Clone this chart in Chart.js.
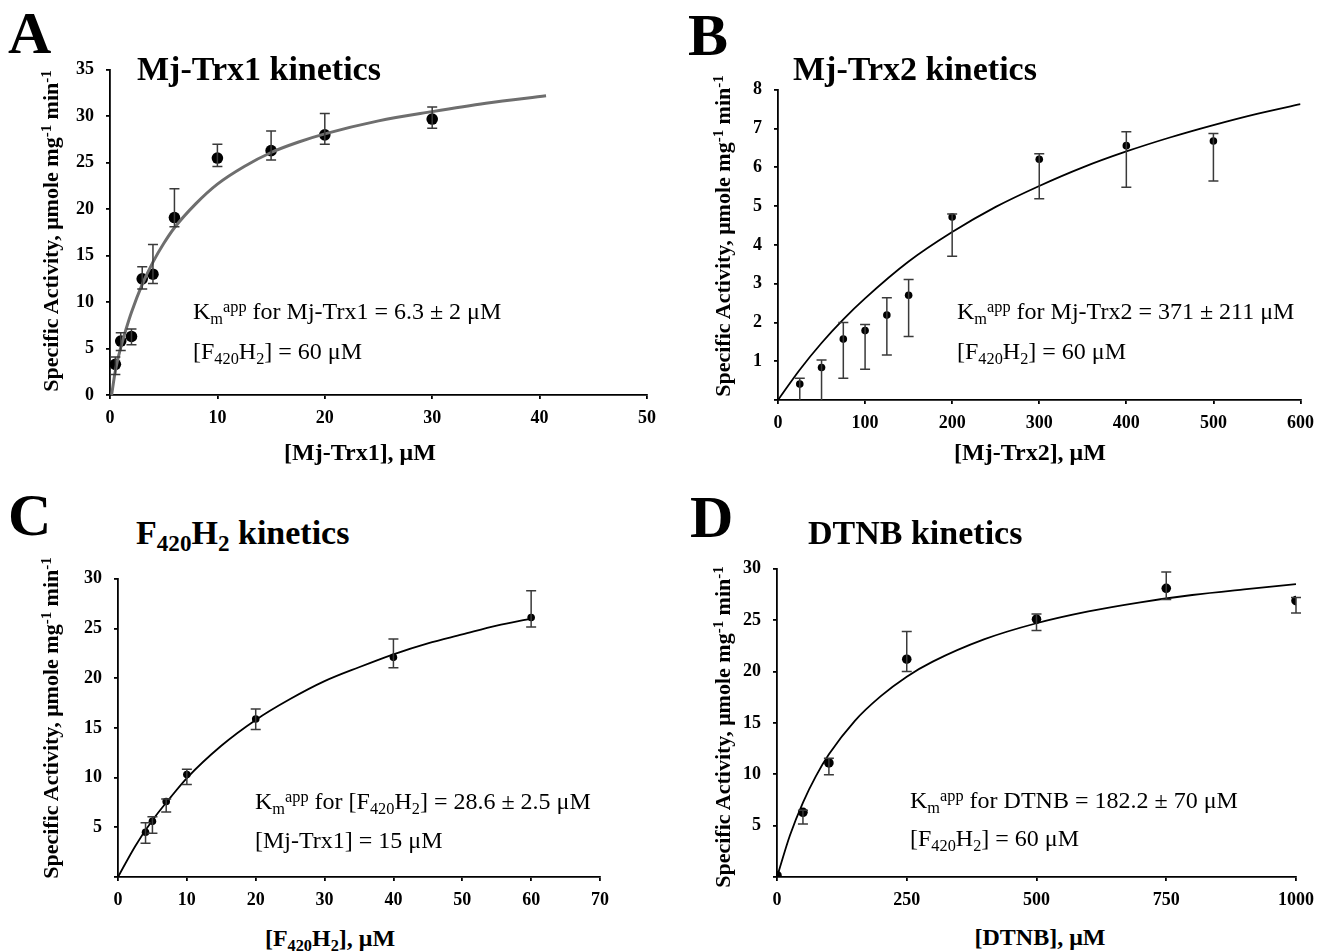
<!DOCTYPE html>
<html>
<head>
<meta charset="utf-8">
<script src="https://cdn.jsdelivr.net/npm/chart.js@4.4.1/dist/chart.umd.min.js"></script>
<style>
  html, body { margin: 0; padding: 0; background: #fff; }
  #page { position: relative; width: 1323px; height: 951px; overflow: hidden; font-family: "Liberation Serif", "Times New Roman", serif; color: #000; }
  canvas { position: absolute; }
  .txt { position: absolute; white-space: nowrap; line-height: 1; }
  .letter { font-size: 60px; font-weight: bold; }
  .title { font-size: 34px; font-weight: bold; }
  .note { font-size: 24px; }
  .xt { font-size: 24px; font-weight: bold; transform: translateX(-50%); }
  .yt { font-size: 22px; font-weight: bold; transform: translate(-50%, -50%) rotate(-90deg); }
  sub, sup { font-size: 0.68em; line-height: 0; position: relative; vertical-align: baseline; }
  sub { top: 0.3em; }
  sup { top: -0.45em; }
</style>
</head>
<body>
<div id="page">
  <canvas id="chartA" width="617" height="393" style="left:55px;top:47px"></canvas>
  <canvas id="chartB" width="600" height="378" style="left:723px;top:67px"></canvas>
  <canvas id="chartC" width="562" height="366" style="left:63px;top:556px"></canvas>
  <canvas id="chartD" width="601" height="376" style="left:722px;top:546px"></canvas>

  <div class="txt letter" style="left:8px;top:3px">A</div>
  <div class="txt letter" style="left:688px;top:5px">B</div>
  <div class="txt letter" style="left:8px;top:485px">C</div>
  <div class="txt letter" style="left:690px;top:487px">D</div>

  <div class="txt title" style="left:137px;top:52px">Mj-Trx1 kinetics</div>
  <div class="txt title" style="left:793px;top:52px">Mj-Trx2 kinetics</div>
  <div class="txt title" style="left:136px;top:516px">F<sub>420</sub>H<sub>2</sub> kinetics</div>
  <div class="txt title" style="left:808px;top:516px">DTNB kinetics</div>

  <div class="txt note" style="left:193px;top:299px">K<sub>m</sub><sup>app</sup> for Mj-Trx1 = 6.3 ± 2 μM</div>
  <div class="txt note" style="left:193px;top:339px">[F<sub>420</sub>H<sub>2</sub>] = 60 μM</div>
  <div class="txt note" style="left:957px;top:299px">K<sub>m</sub><sup>app</sup> for Mj-Trx2 = 371 ± 211 μM</div>
  <div class="txt note" style="left:957px;top:339px">[F<sub>420</sub>H<sub>2</sub>] = 60 μM</div>
  <div class="txt note" style="left:255px;top:789px">K<sub>m</sub><sup>app</sup> for [F<sub>420</sub>H<sub>2</sub>] = 28.6 ± 2.5 μM</div>
  <div class="txt note" style="left:255px;top:828px">[Mj-Trx1] = 15 μM</div>
  <div class="txt note" style="left:910px;top:788px">K<sub>m</sub><sup>app</sup> for DTNB = 182.2 ± 70 μM</div>
  <div class="txt note" style="left:910px;top:826px">[F<sub>420</sub>H<sub>2</sub>] = 60 μM</div>

  <div class="txt xt" style="left:360px;top:440px">[Mj-Trx1], μM</div>
  <div class="txt xt" style="left:1030px;top:440px">[Mj-Trx2], μM</div>
  <div class="txt xt" style="left:330px;top:926px">[F<sub>420</sub>H<sub>2</sub>], μM</div>
  <div class="txt xt" style="left:1040px;top:925px">[DTNB], μM</div>

  <div class="txt yt" style="left:51px;top:231px">Specific Activity, μmole mg<sup>-1</sup> min<sup>-1</sup></div>
  <div class="txt yt" style="left:723px;top:236px">Specific Activity, μmole mg<sup>-1</sup> min<sup>-1</sup></div>
  <div class="txt yt" style="left:51px;top:718px">Specific Activity, μmole mg<sup>-1</sup> min<sup>-1</sup></div>
  <div class="txt yt" style="left:723px;top:727px">Specific Activity, μmole mg<sup>-1</sup> min<sup>-1</sup></div>
</div>

<script>
// A: Mj-Trx1 kinetics
const aConc = [0.5, 1, 2, 3, 4, 6, 10, 15, 20, 30];
const aAct = [3.3, 5.8, 6.3, 12.5, 13.0, 19.1, 25.5, 26.3, 28.0, 29.7];
const aErrUp = [0.8, 0.9, 0.8, 1.3, 3.2, 3.1, 1.5, 2.1, 2.3, 1.3];
const aErrDn = [1.1, 1.0, 0.9, 1.1, 1.0, 1.0, 0.9, 1.0, 1.0, 1.0];
const aFitX = [0.15, 0.5, 1, 1.5, 2, 3, 4, 5, 6, 8, 10, 12.5, 15, 17.5, 20, 25, 30, 35, 40.6];
const aFitY = [0, 2.6, 5.1, 7.1, 8.9, 11.9, 14.3, 16.3, 18.0, 20.6, 22.7, 24.6, 26.1, 27.2, 28.1, 29.5, 30.5, 31.4, 32.2];

// B: Mj-Trx2 kinetics
const bConc = [25, 50, 75, 100, 125, 150, 200, 300, 400, 500];
const bAct = [0.41, 0.84, 1.57, 1.79, 2.19, 2.70, 4.72, 6.21, 6.56, 6.68];
const bErrUp = [0.15, 0.19, 0.43, 0.16, 0.45, 0.41, 0.08, 0.14, 0.36, 0.19];
const bErrDn = [0.41, 0.84, 1.01, 1.00, 1.03, 1.06, 1.01, 1.02, 1.07, 1.03];
const bFitX = [0, 25, 50, 75, 100, 150, 200, 250, 300, 350, 400, 450, 500, 550, 600];
const bFitY = [0, 0.78, 1.47, 2.08, 2.62, 3.57, 4.33, 4.98, 5.52, 6.0, 6.41, 6.77, 7.09, 7.38, 7.63];

// C: F420H2 kinetics
const cConc = [4, 5, 7, 10, 20, 40, 60];
const cAct = [4.5, 5.6, 7.6, 10.3, 15.9, 22.1, 26.1];
const cErrUp = [0.95, 0.45, 0.25, 0.55, 1.0, 1.85, 2.7];
const cErrDn = [1.1, 1.2, 1.05, 1.0, 1.05, 1.05, 0.95];
const cFitX = [0, 2.5, 5, 7.5, 10, 15, 20, 25, 30, 35, 40, 45, 50, 55, 60];
const cFitY = [0, 3.1, 5.7, 7.9, 9.95, 13.2, 15.8, 17.9, 19.7, 21.1, 22.4, 23.5, 24.4, 25.3, 26.0];

// D: DTNB kinetics
const dConc = [0, 50, 100, 250, 500, 750, 1000];
const dAct = [0.15, 6.3, 11.1, 21.2, 25.1, 28.1, 26.9];
const dErrUp = [0, 0.2, 0.45, 2.7, 0.5, 1.6, 0.3];
const dErrDn = [0, 1.15, 1.15, 1.2, 1.1, 1.1, 1.2];
const dFitX = [0, 25, 50, 75, 100, 150, 200, 250, 300, 400, 500, 600, 700, 800, 900, 1000];
const dFitY = [0, 4.07, 7.25, 9.82, 11.94, 15.2, 17.6, 19.5, 20.96, 23.15, 24.7, 25.85, 26.74, 27.45, 28.0, 28.5];

const tickFont = { family: "Liberation Serif", size: 18, weight: 'bold' };

// draws the vertical error bars with caps, through the chart's own scales
const errorBars = {
    id: 'errorBars',
    afterDatasetsDraw(chart) {
        const ctx = chart.ctx;
        const xs = chart.scales.x, ys = chart.scales.y;
        chart.data.datasets.forEach(ds => {
            if (!ds.errUp) return;
            ctx.save();
            ctx.strokeStyle = '#3a3a3a';
            ctx.lineWidth = 1.5;
            ds.data.forEach((p, i) => {
                const x = xs.getPixelForValue(p.x);
                const yTop = ys.getPixelForValue(p.y + ds.errUp[i]);
                const yBot = ys.getPixelForValue(p.y - ds.errDn[i]);
                if (yBot - yTop < 1) return;
                ctx.beginPath();
                ctx.moveTo(x, yTop); ctx.lineTo(x, yBot);
                ctx.moveTo(x - 5, yTop); ctx.lineTo(x + 5, yTop);
                if (p.y - ds.errDn[i] > 0.01) {
                    ctx.moveTo(x - 5, yBot); ctx.lineTo(x + 5, yBot);
                }
                ctx.stroke();
            });
            ctx.restore();
        });
    }
};

function axis(min, max, step, fitSize, isX, hideZero) {
    return {
        type: 'linear',
        min: min,
        max: max,
        ticks: {
            stepSize: step,
            color: '#000',
            font: tickFont,
            padding: isX ? 9 : 12,
            maxRotation: 0,
            autoSkip: false,
            callback: v => (hideZero && v === 0) ? '' : v
        },
        grid: { display: true, drawOnChartArea: false, drawTicks: true, tickLength: 4, color: '#000', lineWidth: 1.8 },
        border: { display: true, color: '#000', width: 1.8 },
        afterFit: s => { if (isX) s.height = fitSize; else s.width = fitSize; }
    };
}

function makePanel(id, conc, act, up, dn, fitX, fitY, xMax, xStep, yMax, yStep, hideZero, opts) {
    const pts = conc.map((x, i) => ({ x: x, y: act[i] }));
    const fit = fitX.map((x, i) => ({ x: x, y: fitY[i] }));
    new Chart(document.getElementById(id), {
        type: 'scatter',
        data: {
            datasets: [
                {
                    type: 'line',
                    data: fit,
                    borderColor: opts.lineColor,
                    borderWidth: opts.lineWidth,
                    pointRadius: 0,
                    fill: false,
                    cubicInterpolationMode: 'monotone'
                },
                {
                    data: pts,
                    errUp: up,
                    errDn: dn,
                    backgroundColor: '#000',
                    borderColor: '#000',
                    pointRadius: opts.r,
                    borderWidth: 0
                }
            ]
        },
        options: {
            responsive: false,
            animation: false,
            layout: { padding: { top: 18, right: opts.right, left: 0, bottom: 0 } },
            plugins: { legend: { display: false }, tooltip: { enabled: false } },
            scales: {
                x: axis(0, xMax, xStep, 45, true, false),
                y: axis(0, yMax, yStep, 55, false, hideZero)
            }
        },
        plugins: [errorBars]
    });
}

makePanel('chartA', aConc, aAct, aErrUp, aErrDn, aFitX, aFitY, 50, 10, 35, 5, false,
    { lineColor: '#6e6e6e', lineWidth: 3, r: 5.8, right: 25 });
makePanel('chartB', bConc, bAct, bErrUp, bErrDn, bFitX, bFitY, 600, 100, 8, 1, true,
    { lineColor: '#000', lineWidth: 1.8, r: 3.8, right: 18 });
makePanel('chartC', cConc, cAct, cErrUp, cErrDn, cFitX, cFitY, 70, 10, 30, 5, true,
    { lineColor: '#000', lineWidth: 1.8, r: 3.8, right: 25 });
makePanel('chartD', dConc, dAct, dErrUp, dErrDn, dFitX, dFitY, 1000, 250, 30, 5, true,
    { lineColor: '#000', lineWidth: 1.8, r: 4.8, right: 23 });
</script>
</body>
</html>
